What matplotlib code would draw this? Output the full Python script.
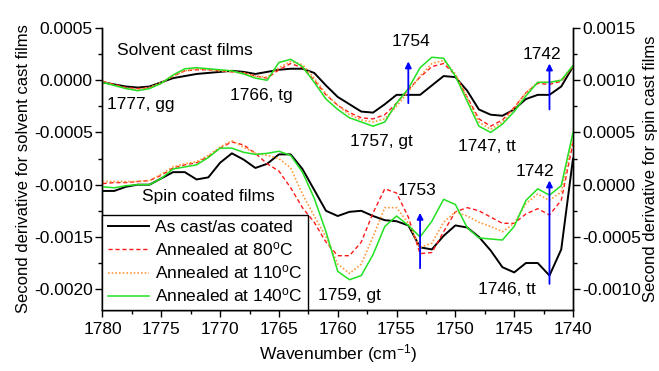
import numpy as np
from matplotlib import pyplot as plt
from matplotlib.ticker import MultipleLocator, FuncFormatter

plt.rcParams['font.family'] = ['Liberation Sans', 'DejaVu Sans']
plt.rcParams['mathtext.default'] = 'regular'
plt.rcParams['axes.unicode_minus'] = False

wn = np.arange(1780, 1739, -1)

# solvent cast films (left axis)
cast_asis = [-0.00002, -0.00004, -0.00006, -0.00007, -0.00006, -0.00002, 0.00002, 0.00004, 0.00006, 0.00007,
             0.00008, 0.00009, 0.00008, 0.00006, 0.00008, 0.0001, 0.00011, 0.00011, 0.00007, -0.00005,
             -0.00016, -0.00023, -0.0003, -0.00031, -0.00023, -0.00014, -0.00014, -0.00014, -0.00005, 0.00004,
             0.00003, -0.0001, -0.00028, -0.00033, -0.00034, -0.00028, -0.00018, -0.00014, -0.00014, -0.00006,
             0.00013]
cast_80 = [-0.00001, -0.00004, -0.00007, -0.00008, -0.00007, -0.00003, 0.00004, 0.00009, 0.0001, 0.0001,
           0.00009, 0.00008, 0.00007, 0.00004, 0.00002, 0.0001, 0.00016, 0.00012, 0.0, -0.00014,
           -0.00024, -0.00031, -0.00036, -0.00037, -0.00033, -0.00022, -0.00009, 0.00003, 0.00013, 0.00016,
           0.00005, -0.00016, -0.00037, -0.00044, -0.00038, -0.00026, -0.00012, -0.00003, -0.00004, -0.00001,
           0.00013]
cast_110 = [-0.00001, -0.00005, -0.00008, -0.00009, -0.00007, -0.00002, 0.00004, 0.00009, 0.00011, 0.0001,
            0.00009, 0.00008, 0.00007, 0.00004, 0.00003, 0.00012, 0.00018, 0.00015, 0.00002, -0.00013,
            -0.00024, -0.00033, -0.00038, -0.0004, -0.00037, -0.00025, -0.00011, 0.00004, 0.00016, 0.00019,
            0.00006, -0.00017, -0.0004, -0.00047, -0.0004, -0.00027, -0.00012, -0.00002, -0.00002, 0.0,
            0.00014]
cast_140 = [-0.00002, -0.00005, -0.00008, -0.0001, -0.00008, -0.00003, 0.00005, 0.00011, 0.00012, 0.00011,
            0.0001, 0.00009, 0.00006, 0.00002, 0.0, 0.00017, 0.0002, 0.00013, -0.00002, -0.00018,
            -0.00028, -0.00036, -0.0004, -0.00044, -0.0004, -0.00022, -0.00008, 0.00012, 0.00022, 0.00021,
            0.00004, -0.0002, -0.00044, -0.0005, -0.00042, -0.0003, -0.00015, -0.00002, -0.00002, 0.0,
            0.00014]

# spin coated films (right axis)
spin_asis = [-0.00006, -0.00006, -0.00002, 0.0, 0.0, 0.00006, 0.00012, 0.00012, 0.00005, 0.00007,
             0.00021, 0.0003, 0.00024, 0.00016, 0.0002, 0.00029, 0.00029, 0.00015, -0.00005, -0.00025,
             -0.0003, -0.00026, -0.00025, -0.0003, -0.00034, -0.00035, -0.00039, -0.0006, -0.00062, -0.00049,
             -0.00039, -0.00041, -0.0005, -0.00063, -0.00079, -0.00084, -0.00075, -0.00075, -0.00087, -0.00062,
             0.00025]
spin_80 = [0.00001, 0.00002, 0.00002, 0.00003, 0.00004, 0.00009, 0.00016, 0.00019, 0.00021, 0.00027,
           0.00035, 0.00041, 0.00038, 0.0003, 0.0002, 0.00013, -0.00003, -0.00022, -0.00036, -0.00055,
           -0.00068, -0.00068, -0.00055, -0.00027, -0.00004, -0.00008, -0.00031, -0.00066, -0.00065, -0.00045,
           -0.00026, -0.00022, -0.00025, -0.00031, -0.00037, -0.00037, -0.00028, -0.00023, -0.00029, -0.00015,
           0.0004]
spin_110 = [0.00003, 0.00003, 0.00003, 0.00003, 0.00004, 0.0001, 0.00017, 0.0002, 0.00022, 0.00028,
            0.00036, 0.00042, 0.00036, 0.0003, 0.00028, 0.00025, 0.00016, -0.00009, -0.0003, -0.0005,
            -0.00076, -0.00085, -0.00076, -0.0005, -0.00022, -0.00022, -0.00037, -0.0006, -0.00056, -0.00036,
            -0.00026, -0.0003, -0.00036, -0.0004, -0.00045, -0.00037, -0.00018, -0.00009, -0.00015, -0.00007,
            0.00045]
spin_140 = [-0.00002, -0.00003, -0.00001, 0.0, 0.0, 0.00006, 0.00015, 0.00017, 0.00019, 0.00026,
            0.00035, 0.00035, 0.00031, 0.00029, 0.0003, 0.00032, 0.00028, 0.00012, -0.00013, -0.00045,
            -0.00083, -0.00091, -0.00087, -0.00067, -0.0004, -0.0003, -0.00039, -0.0005, -0.00035, -0.00014,
            -0.00019, -0.00041, -0.00051, -0.00052, -0.00053, -0.0004, -0.00015, -0.00004, -0.0001, -0.00001,
            0.0005]

labels = ['As cast/as coated', 'Annealed at 80$^{o}$C', 'Annealed at 110$^{o}$C', 'Annealed at 140$^{o}$C']
colors = ['black', '#ff1a1a', '#ff9a3c', '#22e022']
styles = [dict(ls='-', lw=1.4), dict(ls=(0, (3, 2)), lw=1.0), dict(ls=(0, (1, 1.2)), lw=1.2), dict(ls='-', lw=1.1)]

# arrows: (wavenumber, tail, tip)
arrows_cast = [(1754, -0.00022, 0.00018), (1742, -0.00028, 0.00016)]
arrows_spin = [(1753, -0.0008, -0.00027), (1742, -0.00095, 0.00004)]

fs = 12.5
fig = plt.figure(figsize=(6.59, 3.71), dpi=100)
ax = fig.add_axes([0.1555, 0.1644, 0.714, 0.7601])
ax2 = ax.twinx()

for ys, c, st in zip([cast_asis, cast_80, cast_110, cast_140], colors, styles):
    ax.plot(wn, ys, color=c, **st)
handles = []
for ys, c, st, lab in zip([spin_asis, spin_80, spin_110, spin_140], colors, styles, labels):
    h, = ax2.plot(wn, ys, color=c, label=lab, **st)
    handles.append(h)

for x, y0, y1 in arrows_cast:
    ax.annotate('', xy=(x, y1), xytext=(x, y0),
                arrowprops=dict(arrowstyle='-|>', color='blue', lw=1.3, mutation_scale=9, shrinkA=0, shrinkB=0))
for x, y0, y1 in arrows_spin:
    ax2.annotate('', xy=(x, y1), xytext=(x, y0),
                 arrowprops=dict(arrowstyle='-|>', color='blue', lw=1.3, mutation_scale=9, shrinkA=0, shrinkB=0))

ax.text(1778.8, 0.00028, 'Solvent cast films', fontsize=fs, va='center')
ax.text(1779.6, -0.00023, '1777, gg', fontsize=fs, va='center')
ax.text(1769.2, -0.000144, '1766, tg', fontsize=fs, va='center')
ax.text(1759.0, -0.00059, '1757, gt', fontsize=fs, va='center')
ax.text(1749.8, -0.00063, '1747, tt', fontsize=fs, va='center')
ax.text(1753.8, 0.00037, '1754', fontsize=fs, va='center', ha='center')
ax.text(1742.6, 0.00025, '1742', fontsize=fs, va='center', ha='center')
ax2.text(1776.6, -0.00011, 'Spin coated films', fontsize=fs, va='center')
ax2.text(1753.25, -0.00006, '1753', fontsize=fs, va='center', ha='center')
ax2.text(1743.2, 0.00013, '1742', fontsize=fs, va='center', ha='center')
ax2.text(1761.7, -0.00106, '1759, gt', fontsize=fs, va='center')
ax2.text(1748.1, -0.001, '1746, tt', fontsize=fs, va='center')

ax.set_xlim(1780, 1740)
ax.set_ylim(-0.0022, 0.0005)
ax2.set_ylim(-0.0012, 0.0015)

fmt = FuncFormatter(lambda v, p: '%.4f' % (v + 0.0))
for a in (ax, ax2):
    a.yaxis.set_major_locator(MultipleLocator(0.0005))
    a.yaxis.set_minor_locator(MultipleLocator(0.00025))
    a.yaxis.set_major_formatter(fmt)
    a.xaxis.set_major_locator(MultipleLocator(5))
    a.xaxis.set_minor_locator(MultipleLocator(2.5))
    a.tick_params(which='major', direction='out', length=5, width=1, labelsize=fs)
    a.tick_params(which='minor', direction='out', length=3, width=1)
    a.spines['top'].set_visible(False)
    for s in a.spines.values():
        s.set_linewidth(1.0)
ax.tick_params(axis='y', which='both', right=False, pad=2)
ax2.tick_params(axis='y', which='both', left=False, right=True, pad=2)

ax.set_xlabel('Wavenumber (cm$^{-1}$)', fontsize=fs, labelpad=4)
ax.set_ylabel('Second derivative for solvent cast films', fontsize=12, labelpad=2)
ax2.set_ylabel('Second derivative for spin cast films', fontsize=12, labelpad=1)

leg = ax2.legend(handles=handles, loc='lower left', bbox_to_anchor=(0, 0), borderaxespad=0,
                 fontsize=fs, frameon=True, fancybox=False, edgecolor='black',
                 handlelength=2.4, handletextpad=0.3, labelspacing=0.3, borderpad=0.3)
leg.get_frame().set_linewidth(1.0)
leg.get_frame().set_alpha(1)

fig.savefig('out.png', dpi=100)
